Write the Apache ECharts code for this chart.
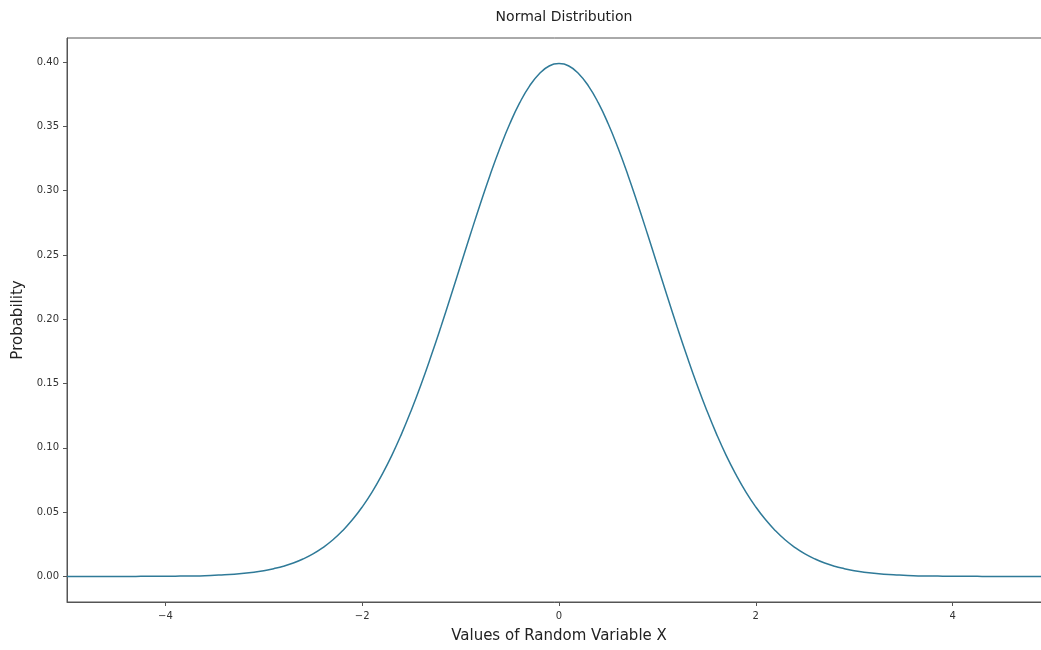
<!DOCTYPE html>
<html>
<head>
<meta charset="utf-8">
<script src="https://cdn.jsdelivr.net/npm/echarts@6/dist/echarts.min.js"></script>
<style>html,body{margin:0;padding:0;background:#fff;}#c{width:1041px;height:650px;}</style>
</head>
<body>
<div id="c"></div>
<script>
const xValues = [-5.0,-4.9,-4.8,-4.7,-4.6,-4.5,-4.4,-4.3,-4.2,-4.1,-4.0,-3.9,-3.8,-3.7,-3.6,-3.5,-3.4,-3.3,-3.2,-3.1,-3.0,-2.9,-2.8,-2.7,-2.6,-2.5,-2.4,-2.3,-2.2,-2.1,-2.0,-1.9,-1.8,-1.7,-1.6,-1.5,-1.4,-1.3,-1.2,-1.1,-1.0,-0.9,-0.8,-0.7,-0.6,-0.5,-0.4,-0.3,-0.2,-0.1,0.0,0.1,0.2,0.3,0.4,0.5,0.6,0.7,0.8,0.9,1.0,1.1,1.2,1.3,1.4,1.5,1.6,1.7,1.8,1.9,2.0,2.1,2.2,2.3,2.4,2.5,2.6,2.7,2.8,2.9,3.0,3.1,3.2,3.3,3.4,3.5,3.6,3.7,3.8,3.9,4.0,4.1,4.2,4.3,4.4,4.5,4.6,4.7,4.8,4.9,5.0];
const probValues = [0.0000,0.0000,0.0000,0.0000,0.0000,0.0000,0.0000,0.0000,0.0001,0.0001,0.0001,0.0002,0.0003,0.0004,0.0006,0.0009,0.0012,0.0017,0.0024,0.0033,0.0044,0.0060,0.0079,0.0104,0.0136,0.0175,0.0224,0.0283,0.0355,0.0440,0.0540,0.0656,0.0790,0.0940,0.1109,0.1295,0.1497,0.1714,0.1942,0.2179,0.2420,0.2661,0.2897,0.3123,0.3332,0.3521,0.3683,0.3814,0.3910,0.3970,0.3989,0.3970,0.3910,0.3814,0.3683,0.3521,0.3332,0.3123,0.2897,0.2661,0.2420,0.2179,0.1942,0.1714,0.1497,0.1295,0.1109,0.0940,0.0790,0.0656,0.0540,0.0440,0.0355,0.0283,0.0224,0.0175,0.0136,0.0104,0.0079,0.0060,0.0044,0.0033,0.0024,0.0017,0.0012,0.0009,0.0006,0.0004,0.0003,0.0002,0.0001,0.0001,0.0001,0.0000,0.0000,0.0000,0.0000,0.0000,0.0000,0.0000,0.0000];
const xTicks = [-4,-2,0,2,4];
const yTicks = [0,0.05,0.10,0.15,0.20,0.25,0.30,0.35,0.40];
const titleText = 'Normal Distribution';
const xLabel = 'Values of Random Variable X';
const yLabel = 'Probability';

const chart = echarts.init(document.getElementById('c'));
const font = 'DejaVu Sans';
chart.setOption({
  animation: false,
  title: { text: titleText, left: 559, top: 5, textAlign: 'center',
    textStyle: { fontFamily: font, fontSize: 14, fontWeight: 'normal', color: '#222' } },
  grid: { left: 67, width: 984, top: 38, height: 564, show: true, borderColor: '#555', borderWidth: 1,
    containLabel: false, outerBoundsMode: 'none' },
  xAxis: {
    type: 'value', min: -5, max: 5,
    name: xLabel, nameLocation: 'middle', nameGap: 27,
    nameTextStyle: { fontFamily: font, fontSize: 15, color: '#222' },
    axisLine: { show: true, onZero: false, lineStyle: { color: '#555' } },
    axisTick: { show: true, customValues: xTicks, length: 4, lineStyle: { color: '#555' } },
    axisLabel: { customValues: xTicks, fontFamily: font, fontSize: 10, color: '#333', margin: 9,
      formatter: v => (v < 0 ? '\u2212' + Math.abs(v) : String(v)) },
    splitLine: { show: false }
  },
  yAxis: {
    type: 'value', min: -0.0199, max: 0.4188,
    name: yLabel, nameLocation: 'middle', nameGap: 40, nameRotate: 90,
    nameTextStyle: { fontFamily: font, fontSize: 15, color: '#222' },
    axisLine: { show: true, onZero: false, lineStyle: { color: '#555' } },
    axisTick: { show: true, customValues: yTicks, length: 4, lineStyle: { color: '#555' } },
    axisLabel: { customValues: yTicks, fontFamily: font, fontSize: 10, color: '#333', margin: 8,
      formatter: v => v.toFixed(2) },
    splitLine: { show: false }
  },
  series: [{
    type: 'line', data: xValues.map((x, i) => [x, probValues[i]]),
    showSymbol: false, smooth: true,
    lineStyle: { color: '#2f7a98', width: 1.5 }
  }]
});
</script>
</body>
</html>
